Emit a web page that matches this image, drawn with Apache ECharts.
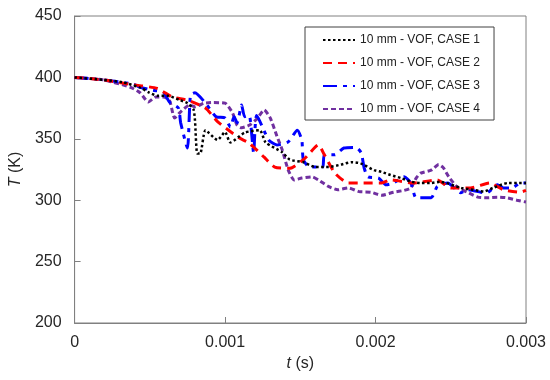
<!DOCTYPE html>
<html>
<head>
<meta charset="utf-8">
<script src="https://cdn.jsdelivr.net/npm/echarts@6/dist/echarts.min.js"></script>
<style>html,body{margin:0;padding:0;background:#fff;}#c{width:550px;height:380px;}</style>
</head>
<body>
<div id="c"></div>
<script>
// time in milliseconds (converted to seconds for the axis), temperature in K
var case1T = [0,0.19,0.32,0.44,0.49,0.55,0.62,0.70,0.75,0.79,0.80,0.815,0.835,0.87,0.95,1.0,1.035,1.13,1.23,1.27,1.38,1.43,1.52,1.60,1.69,1.77,1.84,1.90,1.99,2.04,2.10,2.17,2.24,2.30,2.37,2.43,2.57,2.65,2.72,2.78,2.88,2.94,3.0];
var case1V = [400,398,396,391.5,388,385,385,381.5,379,374,365,338,338,357,349,355.5,347,355,357,347,339,333,331,327,327,329,331,330,324.5,323,320.5,318,315,314,314,315,310,308.5,307,310,314,314,314];

var case2T = [0,0.19,0.39,0.55,0.65,0.75,0.87,0.95,1.09,1.16,1.26,1.33,1.43,1.53,1.62,1.66,1.73,1.82,1.92,2.04,2.10,2.25,2.41,2.50,2.63,2.76,2.85,2.96,3.0];
var case2V = [400,398,394,391,384,381.5,375,364,351,346.5,335,327,326,334,345,337,322,314,314,314,316.5,314,316.5,310,310,314,308.5,306.5,308];

var case3T = [0,0.19,0.39,0.435,0.52,0.59,0.63,0.69,0.705,0.75,0.77,0.80,0.87,0.94,1.00,1.035,1.06,1.08,1.11,1.13,1.16,1.17,1.19,1.21,1.29,1.345,1.42,1.48,1.51,1.52,1.56,1.62,1.65,1.66,1.73,1.79,1.87,1.905,1.925,1.95,2.02,2.07,2.12,2.19,2.235,2.27,2.37,2.41,2.48,2.565,2.61,2.70,2.74,2.81,2.85,2.91,2.96,3.0];
var case3V = [400,398,394.5,392,389.5,388,380,375,363,342.5,385.5,387.5,379,368,367,359.5,368,363,377.5,368,369,363,338.5,369,349,345,347.5,357,349,333,327,327,327,337,337,342.5,343,338.5,326,319,318,312.5,314,319,314,302,302,311,314,306,308.5,306.5,306,312.5,310,310,314,314];

var case4T = [0,0.19,0.37,0.435,0.49,0.54,0.59,0.63,0.665,0.705,0.765,0.80,0.86,0.92,1.00,1.05,1.08,1.11,1.16,1.21,1.26,1.30,1.345,1.38,1.42,1.46,1.51,1.58,1.62,1.69,1.75,1.82,1.89,1.97,2.04,2.12,2.19,2.235,2.27,2.30,2.37,2.42,2.45,2.49,2.545,2.61,2.68,2.74,2.81,2.87,2.94,3.0];
var case4V = [400,398,392,387.5,380,384,384,381.5,367,372,377.5,376,379,379.5,379,371,361,359,361,366,373.5,367,352,341,324.5,316.5,318,319,316.5,311,308.5,310,307,306.5,304,306.5,308,310,318,322,324.5,329,326.5,318.5,310.5,306.5,302.5,302,302.5,302,300,298.5];

var seriesNames = ['10 mm - VOF, CASE 1','10 mm - VOF, CASE 2','10 mm - VOF, CASE 3','10 mm - VOF, CASE 4'];
var xTicks = [0, 0.001, 0.002, 0.003];
var yTicks = [200, 250, 300, 350, 400, 450];

function pairs(ts, vs){ return ts.map(function(t,i){ return [t/1000, vs[i]]; }); }

var styles = [
  {color:'#000000', width:2.5, type:[2.5,2.5]},
  {color:'#ff0000', width:3, type:[9,6]},
  {color:'#0000ff', width:3, type:[14,6,4,6]},
  {color:'#7030a0', width:3, type:[5,3]}
];
var datas = [pairs(case1T,case1V), pairs(case2T,case2V), pairs(case3T,case3V), pairs(case4T,case4V)];

var chart = echarts.init(document.getElementById('c'), null, {renderer:'canvas'});
var txt = '#262626';
chart.setOption({
  animation:false,
  backgroundColor:'#ffffff',
  grid:{left:71, right:24, top:16, bottom:57, show:true, borderColor:'#808080', borderWidth:1},
  legend:{
    orient:'vertical', left:305, top:27, width:193,
    padding:[7,14,5,17], itemGap:11, itemWidth:32, itemHeight:14,
    backgroundColor:'#ffffff', borderColor:'#404040', borderWidth:1,
    itemStyle:{opacity:0},
    textStyle:{fontFamily:'Liberation Sans, Arial, sans-serif', fontSize:12, color:'#222'},
    data:seriesNames
  },
  xAxis:{
    type:'value', min:xTicks[0], max:xTicks[xTicks.length-1], interval:0.001,
    name:'{i|t} (s)', nameLocation:'middle', nameGap:32,
    nameTextStyle:{fontFamily:'Liberation Sans, Arial, sans-serif', fontSize:16, color:txt,
      rich:{i:{fontStyle:'italic', fontFamily:'Liberation Sans, Arial, sans-serif', fontSize:16, color:txt}}},
    axisLine:{show:true, lineStyle:{color:'#808080', width:1}},
    axisTick:{show:true, inside:true, length:6, lineStyle:{color:'#808080'}},
    splitLine:{show:false},
    axisLabel:{margin:12, fontFamily:'Liberation Sans, Arial, sans-serif', fontSize:16, color:txt,
      formatter:function(v){ return v===0 ? '0' : v.toFixed(3); }}
  },
  yAxis:{
    type:'value', min:yTicks[0], max:yTicks[yTicks.length-1], interval:50,
    name:'{i|T} (K)', nameLocation:'middle', nameGap:50, nameRotate:90,
    nameTextStyle:{fontFamily:'Liberation Sans, Arial, sans-serif', fontSize:16, color:txt,
      rich:{i:{fontStyle:'italic', fontFamily:'Liberation Sans, Arial, sans-serif', fontSize:16, color:txt}}},
    axisLine:{show:true, lineStyle:{color:'#808080', width:1}},
    axisTick:{show:true, inside:true, length:6, lineStyle:{color:'#808080'}},
    splitLine:{show:false},
    axisLabel:{margin:13, fontFamily:'Liberation Sans, Arial, sans-serif', fontSize:16, color:txt}
  },
  series:datas.map(function(d,i){
    return {
      name:seriesNames[i], type:'line', data:d, symbol:'none', showSymbol:false,
      smooth:0.2, z:10-i,
      lineStyle:{color:styles[i].color, width:styles[i].width, type:styles[i].type},
      itemStyle:{color:styles[i].color}
    };
  })
});
</script>
</body>
</html>
